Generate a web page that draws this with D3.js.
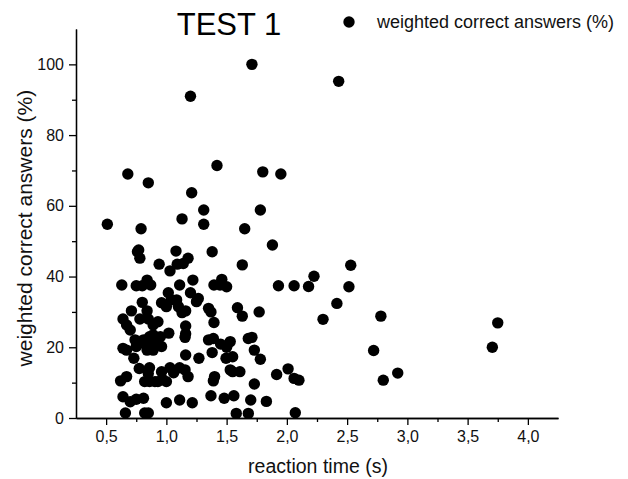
<!DOCTYPE html>
<html>
<head>
<meta charset="utf-8">
<script src="https://cdn.jsdelivr.net/npm/d3@7"></script>
<style>
  html, body { margin: 0; padding: 0; background: #fff; }
  svg { display: block; font-family: "Liberation Sans", Arial, sans-serif; }
  .axis path, .axis line { stroke: #000; stroke-width: 1.3; }
  .axis text { font-size: 16px; fill: #111; }
</style>
</head>
<body>
<svg id="chart" width="628" height="479"></svg>
<script>
// reaction time (s)
const reactionTime = [
  1.71, 1.20, 2.43, 1.80, 1.95, 0.68, 0.85, 1.42, 1.21, 1.31, 1.78, 0.51, 0.79, 1.13, 1.31, 1.65,
  1.88, 0.77, 1.08, 1.38, 0.76, 0.78, 2.53, 2.225, 1.93, 2.06, 2.18, 2.515, 2.415, 1.77, 2.30, 2.78,
  3.75, 3.705, 2.72, 1.71, 1.73, 1.78, 1.915, 2.01, 2.06, 2.10, 2.80, 2.92, 1.73, 1.70, 1.83, 1.68, 2.07,
  0.94, 1.03, 1.09, 1.14, 1.18, 1.63, 0.63, 0.75, 0.80, 0.84, 0.87, 1.11, 1.22, 1.395, 1.445, 1.46, 1.50,
  1.016, 1.20, 0.80, 0.96, 1.00, 1.04, 1.085, 1.10, 1.25, 1.265, 0.71, 0.84, 1.13, 1.16, 1.35, 1.37,
  1.59, 1.63, 0.64, 0.67, 0.70, 0.78, 0.85, 0.89, 0.93, 1.16, 1.395, 1.02, 1.16, 1.155, 0.86, 0.89,
  0.92, 0.95, 0.905, 0.86, 0.84, 0.81, 0.74, 0.77, 0.75, 0.64, 0.67, 0.73, 0.84, 0.89, 0.96, 1.16,
  1.27, 1.38, 1.35, 1.39, 1.45, 1.50, 1.53, 1.495, 1.55, 1.68, 0.775, 0.86, 0.85, 0.82, 0.86, 0.905,
  0.93, 0.97, 1.00, 0.96, 1.03, 1.06, 1.11, 1.155, 1.18, 0.62, 0.67, 1.40, 1.39, 1.53, 1.55, 1.61,
  0.64, 0.70, 0.75, 0.81, 1.00, 1.11, 1.215, 1.37, 1.48, 1.56, 0.66, 0.82, 0.85, 1.58
];
// weighted correct answers (%)
const correctAnswers = [
  100, 91, 95.2, 69.6, 69.0, 69.0, 66.5, 71.4, 63.7, 58.8, 58.8, 54.8, 53.5, 56.3, 54.8, 53.5,
  48.9, 47.5, 47.2, 47.0, 47.0, 45.2, 43.2, 40.1, 37.4, 37.4, 37.2, 37.1, 32.4, 30.0, 27.9, 28.8,
  26.9, 20.0, 19.1, 22.8, 19.2, 16.6, 12.3, 13.9, 11.2, 10.7, 10.7, 12.7, 9.6, 5.1, 4.7, 1.3, 1.5,
  43.5, 41.6, 43.5, 43.7, 45.2, 43.3, 37.6, 37.4, 37.4, 39.0, 37.6, 37.6, 39.0, 37.6, 37.6, 39.2, 37.1,
  35.4, 35.4, 32.7, 32.6, 31.5, 33.4, 33.4, 31.5, 32.9, 33.8, 30.3, 30.3, 29.8, 30.3, 31.0, 30.0,
  31.2, 28.8, 28.0, 26.3, 24.9, 28.0, 28.0, 26.3, 27.2, 26.0, 27.0, 24.0, 23.8, 22.8, 23.0, 23.5,
  22.5, 23.0, 21.6, 21.1, 20.2, 22.1, 22.1, 21.1, 20.2, 19.7, 19.2, 16.9, 19.2, 19.2, 20.2, 17.8,
  16.9, 18.5, 22.1, 22.5, 20.9, 20.0, 21.6, 16.9, 17.3, 22.5, 14.0, 14.2, 12.6, 10.3, 10.3, 10.3,
  10.3, 10.9, 10.3, 13.1, 14.2, 12.8, 14.2, 13.6, 11.7, 10.5, 11.7, 11.7, 10.5, 13.6, 13.1, 13.1,
  6.0, 4.6, 5.3, 5.6, 4.3, 5.1, 4.3, 6.3, 5.6, 6.3, 1.4, 1.4, 1.4, 1.3
];

const xTicks = [0.5, 1.0, 1.5, 2.0, 2.5, 3.0, 3.5, 4.0];
const xMinorTicks = [0.75, 1.25, 1.75, 2.25, 2.75, 3.25, 3.75];
const yTicks = [0, 20, 40, 60, 80, 100];
const yMinorTicks = [10, 30, 50, 70, 90];

const titleText = 'TEST 1';
const seriesName = 'weighted correct answers (%)';
const xLabel = 'reaction time (s)';
const yLabel = 'weighted correct answers (%)';

const svg = d3.select('#chart');
const margin = { top: 29, right: 70, bottom: 61, left: 76 };
const width = 628;
const height = 479;
const plotWidth = width - margin.left - margin.right;
const plotHeight = height - margin.top - margin.bottom;

const g = svg.append('g')
    .attr('transform', `translate(${margin.left}, ${margin.top})`);

const xScale = d3.scaleLinear().domain([0.25, 4.25]).range([0, plotWidth]);
const yScale = d3.scaleLinear().domain([0, 110]).range([plotHeight, 0]);

const comma = d3.formatLocale({ decimal: ',', thousands: '.', grouping: [3], currency: ['', ''] });

// minor ticks first, then major ticks on top
g.append('g')
    .attr('class', 'axis')
    .attr('transform', `translate(0, ${plotHeight})`)
    .call(d3.axisBottom(xScale).tickValues(xMinorTicks).tickSize(4).tickSizeOuter(0).tickFormat(''));

g.append('g')
    .attr('class', 'axis')
    .attr('transform', `translate(0, ${plotHeight})`)
    .call(d3.axisBottom(xScale).tickValues(xTicks).tickSize(7).tickSizeOuter(0)
        .tickPadding(6).tickFormat(comma.format('.1f')));

g.append('g')
    .attr('class', 'axis')
    .call(d3.axisLeft(yScale).tickValues(yMinorTicks).tickSize(4).tickSizeOuter(0).tickFormat(''));

g.append('g')
    .attr('class', 'axis')
    .call(d3.axisLeft(yScale).tickValues(yTicks).tickSize(7).tickSizeOuter(0)
        .tickPadding(5).tickFormat(d3.format('d')));

// points
g.selectAll('.dot')
    .data(reactionTime.map((x, i) => ({ x: x, y: correctAnswers[i] })))
    .enter().append('circle')
    .attr('class', 'dot')
    .attr('cx', d => xScale(d.x))
    .attr('cy', d => yScale(d.y))
    .attr('r', 5.7)
    .attr('fill', '#000');

// axis labels
svg.append('text')
    .attr('x', margin.left + xScale(2.25) + 1)
    .attr('y', 473)
    .attr('text-anchor', 'middle')
    .attr('font-size', '19.5px')
    .attr('fill', '#111')
    .text(xLabel);

svg.append('text')
    .attr('transform', `translate(32, ${margin.top + yScale(53.7)}) rotate(-90)`)
    .attr('text-anchor', 'middle')
    .attr('font-size', '21px')
    .attr('fill', '#111')
    .text(yLabel);

// title
svg.append('text')
    .attr('x', 229)
    .attr('y', 35)
    .attr('text-anchor', 'middle')
    .attr('font-size', '31px')
    .attr('fill', '#000')
    .text(titleText);

// legend
svg.append('circle')
    .attr('cx', 349)
    .attr('cy', 22)
    .attr('r', 5.7)
    .attr('fill', '#000');

svg.append('text')
    .attr('x', 377)
    .attr('y', 28)
    .attr('font-size', '18px')
    .attr('fill', '#111')
    .text(seriesName);
</script>
</body>
</html>
